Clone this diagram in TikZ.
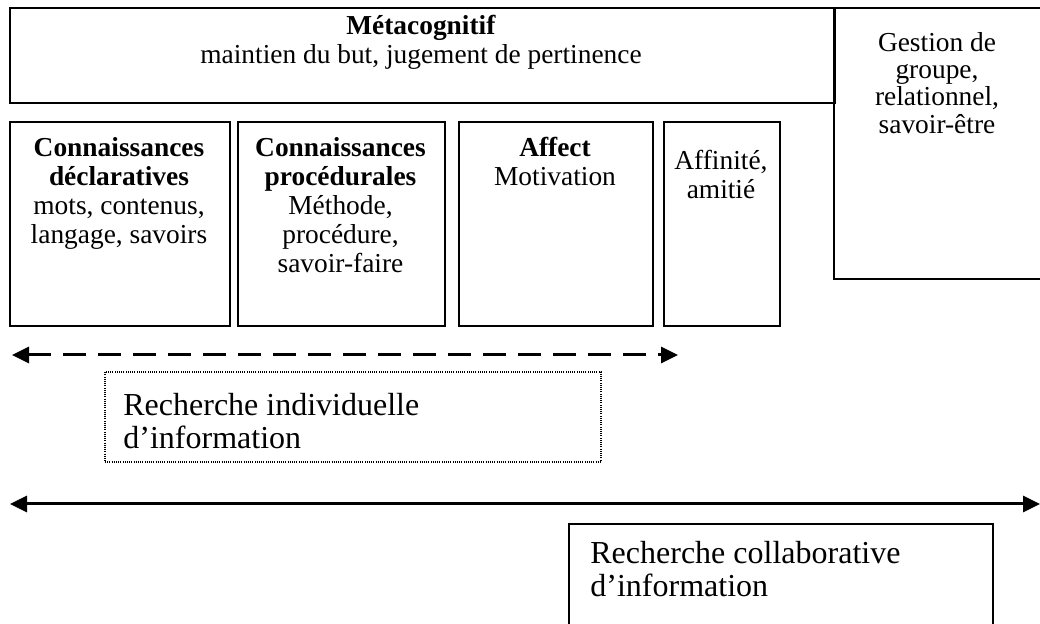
\documentclass[tikz,border=0pt]{standalone}
\usepackage{fontspec}
\setmainfont{Liberation Serif}
\usetikzlibrary{arrows.meta}
\begin{document}
\begin{tikzpicture}[x=0.5pt,y=-0.5pt,
  box/.style={draw, line width=0.9pt, rectangle, inner sep=0pt, anchor=north west},
  dotbox/.style={box, line width=0.9pt, dash pattern=on 0.5pt off 0.6pt},
  body/.style={inner sep=0pt, align=center, font=\fontsize{13.7}{14.5}\selectfont},
  tight/.style={body, font=\fontsize{13.7}{13.6}\selectfont},
  big/.style={inner sep=0pt, align=left, font=\fontsize{16}{16.6}\selectfont},
  dasharrow/.style={line width=1.5pt, dash pattern=on 11.5pt off 6pt, {Triangle[length=8.5pt,width=8pt]}-{Triangle[length=8.5pt,width=8pt]}},
  solidarrow/.style={line width=1.5pt, {Triangle[length=8.5pt,width=8pt]}-{Triangle[length=8.5pt,width=8pt]}}
]
\useasboundingbox (0,0) rectangle (1040,624);

% boxes
\node[box, minimum width=412.5pt, minimum height=47.5pt] (meta) at (9,7) {};
\node[box, minimum width=105pt, minimum height=135.5pt] (gest) at (833,7) {};
\node[box, minimum width=110pt, minimum height=102pt] (b1) at (9,121) {};
\node[box, minimum width=103.5pt, minimum height=102pt] (b2) at (237,121) {};
\node[box, minimum width=97pt, minimum height=102pt] (b3) at (458,121) {};
\node[box, minimum width=58pt, minimum height=102pt] (b4) at (663,121) {};
\node[dotbox, minimum width=248pt, minimum height=45pt] (indiv) at (104,371) {};
\node[box, minimum width=212pt, minimum height=60pt] (collab) at (568,523) {};

% texts
\node[body, anchor=north] (tmeta) at (421,15) {\textbf{Métacognitif}\\maintien du but, jugement de pertinence};
\node[tight, anchor=north] (tgest) at (937,32) {Gestion de\\groupe,\\relationnel,\\savoir-être};
\node[body, anchor=north] (tb1) at (119,137) {\textbf{Connaissances}\\\textbf{déclaratives}\\mots, contenus,\\langage, savoirs};
\node[body, anchor=north] (tb2) at (340.5,137) {\textbf{Connaissances}\\\textbf{procédurales}\\Méthode,\\procédure,\\savoir-faire};
\node[body, anchor=north] (tb3) at (555,137) {\textbf{Affect}\\Motivation};
\node[body, anchor=north] (tb4) at (721,150) {Affinité,\\amitié};
\node[big, anchor=north west] (tindiv) at (123,393) {Recherche individuelle\\d’information};
\node[big, anchor=north west] (tcollab) at (590,541) {Recherche collaborative\\d’information};

% arrows
\coordinate (dL) at (12,355);
\coordinate (dR) at (678,355);
\coordinate (sL) at (10,504);
\coordinate (sR) at (1040,504);
\draw[dasharrow] (dL) -- (dR);
\draw[solidarrow] (sL) -- (sR);
\end{tikzpicture}
\end{document}
